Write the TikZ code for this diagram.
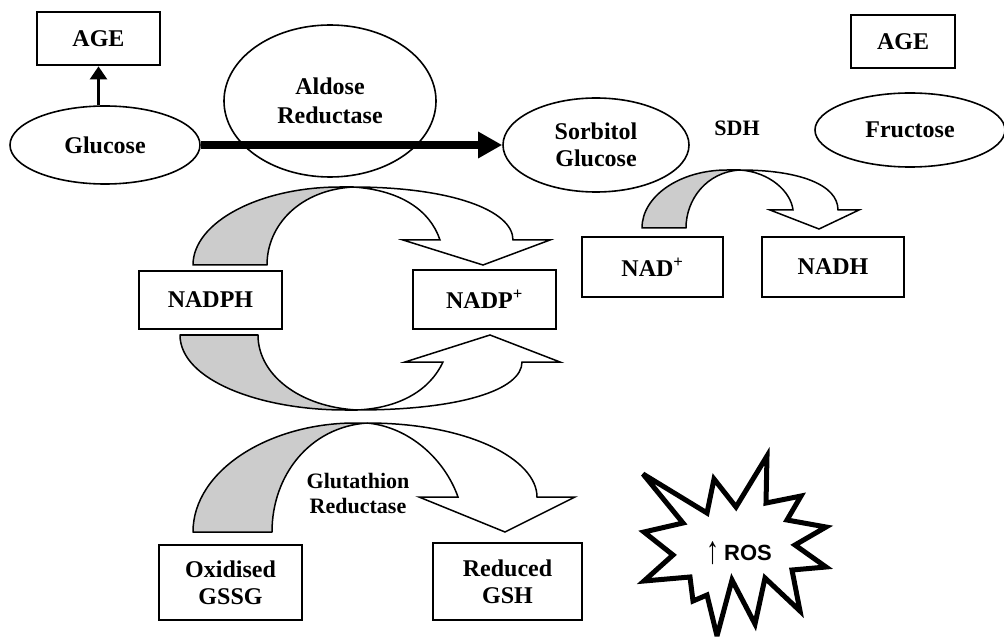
\documentclass[tikz,border=0pt]{standalone}
\usepackage{fontspec}
\setmainfont{Liberation Serif}
\setsansfont{Liberation Sans}
\usetikzlibrary{shapes.geometric,arrows.meta}
\begin{document}
\begin{tikzpicture}[x=1pt,y=-1pt,
  lbl/.style={font=\bfseries\fontsize{24}{27}\selectfont, align=center},
  slbl/.style={font=\bfseries\fontsize{22}{25}\selectfont, align=center},
  ell/.style={draw, ellipse, line width=1.6pt, inner sep=0pt, lbl},
  box/.style={draw, rectangle, line width=2.8pt, inner sep=0pt, lbl},
  backpart/.style={draw, line width=1.5pt, fill=black!20, line join=round},
  frontpart/.style={draw, line width=1.5pt, fill=white, line join=miter},
  burst/.style={draw, line width=5pt, line join=miter, miter limit=4, fill=white},
]
\useasboundingbox (0,0) rectangle (1004,644);

% top row
\node[box, minimum width=123pt, minimum height=53pt] (ageL) at (98.5,38.5) {AGE};
\node[ell, minimum width=190pt, minimum height=78pt] (glucose) at (105,145) {Glucose};
\node[ell, minimum width=212pt, minimum height=152pt, font=\bfseries\fontsize{24}{29}\selectfont] (aldose) at (330,101) {Aldose\\Reductase};
\node[ell, minimum width=186pt, minimum height=94pt] (sorbitol) at (596,145) {Sorbitol\\Glucose};
\node[slbl] (sdh) at (737,128) {SDH};
\node[ell, minimum width=190pt, minimum height=74pt] (fructose) at (910,130) {Fructose};
\node[box, minimum width=104pt, minimum height=53pt] (ageR) at (903,41.5) {AGE};

\draw[line width=2.6pt, -{Triangle[length=13pt,width=17pt]}] (glucose.north -| ageL.south) -- (ageL.south);
\draw[line width=8pt, -{Triangle[length=24pt,width=25pt]}] (glucose.east) -- (sorbitol.west);

% cofactor boxes
\node[box, minimum width=143pt, minimum height=58pt] (nadph) at (210.5,300) {NADPH};
\node[box, minimum width=143pt, minimum height=59pt] (nadp) at (484.5,299.5) {NADP\textsuperscript{+}};
\node[box, minimum width=141pt, minimum height=60pt] (nad) at (652.5,267) {NAD\textsuperscript{+}};
\node[box, minimum width=142pt, minimum height=60pt] (nadh) at (833,267) {NADH};
\node[box, minimum width=143pt, minimum height=75pt] (gssg) at (230.5,582.5) {Oxidised\\GSSG};
\node[box, minimum width=149pt, minimum height=77pt] (gsh) at (507.5,581.5) {Reduced\\GSH};
\node[slbl] (glr) at (358,494) {Glutathion\\Reductase};

% SDH curved arrow NAD+ -> NADH
\draw[backpart] (642,228) .. controls (642,196) and (680,170) .. (727,170) -- (740,170)
  .. controls (706,172) and (686,200) .. (686,228) -- cycle;
\draw[frontpart] (740,170) .. controls (800,170) and (838,185) .. (838,210) -- (859,210) -- (819,229)
  -- (770,210) -- (793,210) .. controls (791,192) and (770,172) .. (740,170) -- cycle;

% NADPH -> NADP+ (upper)
\draw[backpart] (193,265) .. controls (193,222) and (260,187) .. (340,187) -- (353,187)
  .. controls (300,190) and (267,225) .. (267,265) -- cycle;
\draw[frontpart] (353,187) .. controls (450,187) and (513,210) .. (513,240) -- (550,240) -- (483,265)
  -- (403,240) -- (440,240) .. controls (430,210) and (400,190) .. (353,187) -- cycle;

% NADPH -> NADP+ (lower)
\draw[backpart] (180,335) .. controls (180,380) and (260,410) .. (345,410) -- (357,410)
  .. controls (300,407) and (258,375) .. (258,335) -- cycle;
\draw[frontpart] (357,410) .. controls (460,410) and (522,390) .. (522,362) -- (560,362) -- (490,335)
  -- (405,362) -- (443,362) .. controls (430,390) and (400,408) .. (357,410) -- cycle;

% Glutathione reductase arrow
\draw[backpart] (193,532) .. controls (193,470) and (270,423) .. (355,423) -- (367,423)
  .. controls (310,427) and (272,475) .. (272,532) -- cycle;
\draw[frontpart] (367,423) .. controls (470,423) and (537,460) .. (537,497) -- (575,497) -- (505,532)
  -- (419,497) -- (458,497) .. controls (445,460) and (410,427) .. (367,423) -- cycle;

% ROS burst
\draw[burst] (643,474) -- (707,513) -- (714,479) -- (736,507) -- (767,456) -- (766,503)
  -- (801,496) -- (787,520) -- (826,527) -- (795,545) -- (826,567) -- (792,570)
  -- (800,611) -- (765,578) -- (755,624) -- (732,580) -- (717,636) -- (707,595)
  -- (693,601) -- (690,577) -- (644,581) -- (673,555) -- (644,532) -- (683,523) -- cycle;
\node (ros) at (739,553) {\raisebox{-3pt}{\scalebox{1}[1.5]{\fontsize{26}{26}\selectfont ↑}}\hspace{5pt}{\sffamily\bfseries\fontsize{22}{22}\selectfont ROS}};
\end{tikzpicture}
\end{document}
